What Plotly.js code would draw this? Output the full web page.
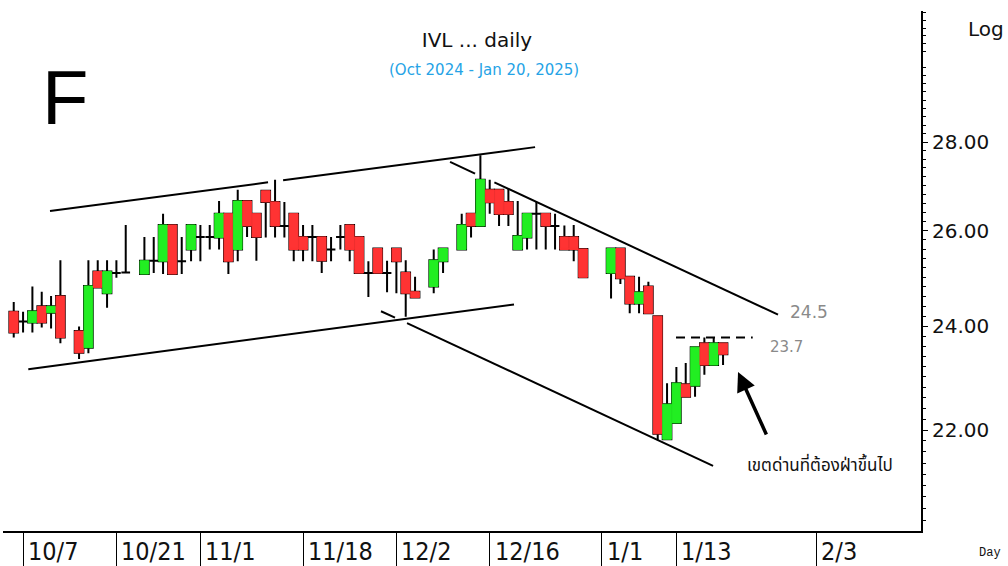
<!DOCTYPE html>
<html><head><meta charset="utf-8">
<script src="https://cdn.plot.ly/plotly-3.0.1.min.js"></script>
<style>html,body{margin:0;padding:0;background:#fff}#chart{width:1008px;height:566px}</style>
</head><body><div id="chart"></div>
<script>
// ---- data (IVL daily) ----
const dates = ['2024-10-04','2024-10-07','2024-10-08','2024-10-09','2024-10-10','2024-10-11','2024-10-15','2024-10-16','2024-10-17','2024-10-18','2024-10-21','2024-10-22','2024-10-24','2024-10-25','2024-10-28','2024-10-29','2024-10-30','2024-10-31','2024-11-01','2024-11-04','2024-11-05','2024-11-06','2024-11-07','2024-11-08','2024-11-11','2024-11-12','2024-11-13','2024-11-14','2024-11-15','2024-11-18','2024-11-19','2024-11-20','2024-11-21','2024-11-22','2024-11-25','2024-11-26','2024-11-27','2024-11-28','2024-11-29','2024-12-02','2024-12-03','2024-12-04','2024-12-06','2024-12-09','2024-12-11','2024-12-12','2024-12-13','2024-12-16','2024-12-17','2024-12-18','2024-12-19','2024-12-20','2024-12-23','2024-12-24','2024-12-25','2024-12-26','2024-12-27','2024-12-30','2025-01-02','2025-01-03','2025-01-06','2025-01-07','2025-01-08','2025-01-09','2025-01-10','2025-01-13','2025-01-14','2025-01-15','2025-01-16','2025-01-17','2025-01-20'];
const openP  = [24.29,24.09,24.07,24.40,24.27,24.61,23.90,23.57,25.12,24.67,25.09,25.10,25.07,25.35,25.34,26.12,25.34,25.59,25.86,25.86,25.85,26.37,25.59,26.65,26.37,26.88,26.63,26.10,26.37,25.86,25.86,25.86,25.59,25.86,26.12,25.86,25.09,25.61,25.09,25.61,25.10,24.70,24.81,25.34,25.59,26.37,26.10,26.90,26.90,26.63,25.59,25.85,26.37,26.37,26.10,25.86,25.86,25.60,25.09,25.61,25.01,24.46,24.81,24.20,21.83,22.13,22.86,22.83,23.66,23.23,23.66];
const highP  = [24.49,24.29,24.81,24.70,24.61,25.36,23.99,25.36,25.36,25.36,25.36,26.12,25.86,25.86,26.37,26.12,25.86,26.12,26.12,26.12,26.65,26.37,26.90,26.65,26.37,26.88,27.13,26.63,26.37,26.12,26.12,25.86,25.86,26.12,26.12,25.86,25.34,25.61,25.35,25.61,25.36,25.01,25.59,25.61,26.37,26.37,27.69,27.13,26.90,26.92,26.65,26.37,26.63,26.37,26.37,26.11,26.12,25.60,25.61,25.61,25.01,25.01,24.91,24.20,22.88,23.19,23.27,23.58,23.77,23.77,23.66];
const lowP   = [23.77,23.87,23.87,23.97,23.95,23.66,23.35,23.46,24.79,24.37,24.99,25.10,25.07,25.09,25.07,25.07,25.07,25.34,25.34,25.59,25.59,25.07,25.34,25.86,25.35,25.85,25.85,25.85,25.34,25.34,25.34,25.09,25.34,25.59,25.34,25.09,24.59,25.09,24.69,24.67,24.19,24.58,24.67,25.09,25.59,25.85,26.10,26.37,26.10,26.10,25.59,25.59,25.59,25.59,25.59,25.59,25.34,25.00,24.56,24.86,24.26,24.26,24.26,21.82,21.83,22.13,22.62,22.62,23.04,23.23,23.23];
const closeP = [23.87,24.09,24.30,24.07,24.40,23.77,23.47,24.82,24.79,25.12,25.09,25.10,25.35,25.35,26.12,25.07,25.34,26.12,25.86,25.86,26.37,25.34,26.65,26.10,25.86,26.63,26.10,26.10,25.59,25.59,25.86,25.35,25.59,25.86,25.59,25.09,25.09,25.09,25.09,25.34,24.67,24.58,25.36,25.61,26.12,26.10,27.13,26.62,26.36,26.36,25.88,26.37,26.37,26.10,26.10,25.59,25.59,25.00,25.61,24.98,24.46,24.69,24.26,21.93,22.48,22.88,22.62,23.58,23.23,23.66,23.44];

const tickDates  = ['2024-10-07','2024-10-21','2024-11-01','2024-11-18','2024-12-02','2024-12-16','2025-01-01','2025-01-13','2025-02-03'];
const tickLabels = ['10/7','10/21','11/1','11/18','12/2','12/16','1/1','1/13','2/3'];
const yTickVals  = [22, 24, 26, 28];

// drawn trend lines (date, price)
const upChannelTopX  = [['2024-10-09 21:21','2024-11-12 06:00'], ['2024-11-13 20:38','2024-12-20 20:38']];
const upChannelTopY  = [[26.43, 27.07], [27.12, 27.88]];
const upChannelBotX  = [['2024-10-07 13:26','2024-12-18 14:24']];
const upChannelBotY  = [[23.15, 24.44]];
const downChannelTopX = [['2024-12-09 18:00','2024-12-12 10:19'], ['2024-12-16 12:00','2025-01-27 21:21']];
const downChannelTopY = [[27.54, 27.27], [27.07, 24.23]];
const downChannelBotX = [['2024-11-28 08:24','2024-11-29 20:24'], ['2024-12-03 03:22','2025-01-16 22:19']];
const downChannelBotY = [[24.30, 24.17], [24.06, 21.35]];
const resistanceX = ['2025-01-10 23:02','2025-01-23 04:19'];
const resistanceY = [23.77, 23.77];

const UP = '#22ee22', DOWN = '#ff3333';

// ---- traces ----
const traces = [];
traces.push({
  type:'candlestick', x:dates, open:openP, high:highP, low:lowP, close:closeP,
  increasing:{line:{color:'#000', width:2}, fillcolor:UP},
  decreasing:{line:{color:'#000', width:2}, fillcolor:DOWN},
  whiskerwidth:0, hoverinfo:'skip', showlegend:false
});
// coloured bodies on top (no wicks, dojis left black)
const bO = [], bH = [], bL = [], bC = [];
for (let i = 0; i < dates.length; i++) {
  if (openP[i] === closeP[i]) { bO.push(null); bH.push(null); bL.push(null); bC.push(null); }
  else { bO.push(openP[i]); bC.push(closeP[i]); bH.push(Math.max(openP[i], closeP[i])); bL.push(Math.min(openP[i], closeP[i])); }
}
traces.push({
  type:'candlestick', x:dates, open:bO, high:bH, low:bL, close:bC,
  increasing:{line:{color:UP, width:1}, fillcolor:UP},
  decreasing:{line:{color:DOWN, width:1}, fillcolor:DOWN},
  whiskerwidth:0, hoverinfo:'skip', showlegend:false
});
function addLines(xs, ys) {
  for (let i = 0; i < xs.length; i++) {
    traces.push({type:'scatter', mode:'lines', x:xs[i], y:ys[i], line:{color:'#000', width:2}, hoverinfo:'skip', showlegend:false});
  }
}
addLines(upChannelTopX, upChannelTopY);
addLines(upChannelBotX, upChannelBotY);
addLines(downChannelTopX, downChannelTopY);
addLines(downChannelBotX, downChannelBotY);
traces.push({type:'scatter', mode:'lines', x:resistanceX, y:resistanceY, line:{color:'#000', width:2, dash:'9px,6px'}, hoverinfo:'skip', showlegend:false});

// ---- axes ----
const yRange = [1.30569, 1.4948];
const minorVals = [];
for (let k = 101; k <= 157; k++) { const v = Math.round(k * 2) / 10; if (v % 2 !== 0) minorVals.push(v); }
const allSmall = [];
for (let k = 101; k <= 157; k++) allSmall.push(Math.round(k * 2) / 10);

const annotations = [];
tickDates.forEach((d, i) => annotations.push({
  x:d, xref:'x', y:-0.04, yref:'paper', text:tickLabels[i], showarrow:false,
  xanchor:'left', yanchor:'middle', xshift:3,
  font:{family:'"Liberation Sans Narrow","DejaVu Sans Condensed",sans-serif', size:25, color:'#111'}
}));
annotations.push(
  {x:0.524, xref:'paper', y:0.8865, yref:'paper', text:'(Oct 2024 - Jan 20, 2025)', showarrow:false, xanchor:'center', yanchor:'middle', font:{family:'DejaVu Sans', size:15, color:'#25a3e6'}},
  {x:0.0675, xref:'paper', y:0.833, yref:'paper', text:'F', showarrow:false, xanchor:'center', yanchor:'middle', font:{family:'Liberation Sans', size:76, color:'#000'}},
  {x:1.0708, xref:'paper', y:0.9654, yref:'paper', text:'Log', showarrow:false, xanchor:'center', yanchor:'middle', font:{family:'DejaVu Sans', size:20, color:'#111'}},
  {x:1.0752, xref:'paper', y:-0.0423, yref:'paper', text:'Day', showarrow:false, xanchor:'center', yanchor:'middle', font:{family:'Liberation Mono', size:12, color:'#111'}},
  {x:0.8551, xref:'paper', y:0.4212, yref:'paper', text:'24.5', showarrow:false, xanchor:'left', yanchor:'middle', font:{family:'DejaVu Sans', size:17, color:'#8a8a8a'}},
  {x:0.8333, xref:'paper', y:0.3538, yref:'paper', text:'23.7', showarrow:false, xanchor:'left', yanchor:'middle', font:{family:'DejaVu Sans', size:15, color:'#8a8a8a'}},
  {x:0.8083, xref:'paper', y:0.125, yref:'paper', text:'เขตด่านที่ต้องฝ่าขึ้นไป', showarrow:false, xanchor:'left', yanchor:'middle', font:{family:'Tahoma,"Noto Sans Thai","DejaVu Sans",sans-serif', size:17, color:'#111'}},
  {x:0.8007, xref:'paper', y:0.3058, yref:'paper', text:'', showarrow:true, ax:29, ay:64, axref:'pixel', ayref:'pixel', arrowhead:2, arrowsize:1.1, arrowwidth:3.5, arrowcolor:'#000', standoff:0, startstandoff:0}
);

const layout = {
  width:1008, height:566,
  margin:{l:3, r:87, t:11, b:35, pad:0},
  paper_bgcolor:'#fff', plot_bgcolor:'#fff',
  showlegend:false,
  boxgap:0.07, boxgroupgap:0,
  title:{text:'IVL ... daily', x:0.4732, xanchor:'center', y:0.929, yanchor:'middle', yref:'container', font:{family:'DejaVu Sans', size:20, color:'#111'}},
  xaxis:{
    type:'date', range:['2024-10-02 20:24','2025-02-18 05:02'],
    rangebreaks:[{bounds:['sat','mon']}], rangeslider:{visible:false},
    showgrid:false, zeroline:false, showline:true, linecolor:'#000', linewidth:2,
    ticks:'outside', ticklen:35, tickwidth:1, tickcolor:'#000',
    tickmode:'array', tickvals:tickDates, showticklabels:false, fixedrange:true
  },
  yaxis:{
    type:'log', side:'right', range:yRange,
    tickmode:'array', tickvals:yTickVals, ticktext:yTickVals.map(v => v.toFixed(2)),
    ticks:'outside', ticklen:5, tickwidth:1, tickcolor:'#000',
    showline:true, linecolor:'#000', linewidth:2, showgrid:false, zeroline:false,
    tickfont:{family:'DejaVu Sans', size:20, color:'#111'},
    minor:{tickmode:'array', tickvals:minorVals, ticks:'outside', ticklen:3, tickwidth:1, tickcolor:'#000', showgrid:false},
    fixedrange:true
  },
  yaxis2:{
    type:'log', overlaying:'y', side:'left', range:yRange,
    tickmode:'array', tickvals:allSmall, ticks:'inside', ticklen:3, tickwidth:1, tickcolor:'#444',
    showticklabels:false, showline:false, showgrid:false, zeroline:false, fixedrange:true
  },
  annotations:annotations
};

Plotly.newPlot('chart', traces, layout, {staticPlot:true, displayModeBar:false});
</script>
</body></html>
